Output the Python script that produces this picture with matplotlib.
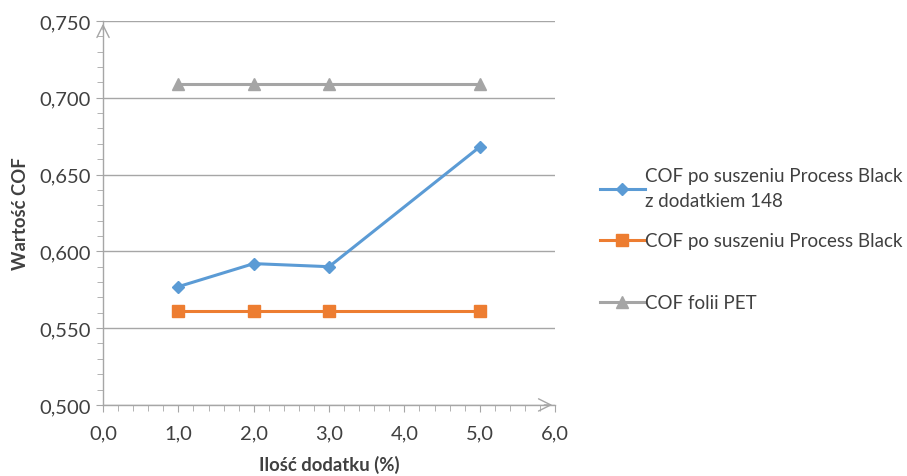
import matplotlib
matplotlib.use('Agg')
import matplotlib.pyplot as plt
from matplotlib.ticker import MultipleLocator, FuncFormatter

plt.rcParams['font.family'] = ['Lato', 'DejaVu Sans']

# data
x_pts = [1.0, 2.0, 3.0, 5.0]
cof_148 = [0.577, 0.592, 0.590, 0.668]
cof_black = [0.561, 0.561, 0.561, 0.561]
cof_pet = [0.709, 0.709, 0.709, 0.709]
labels = ['COF po suszeniu Process Black\nz dodatkiem 148',
          'COF po suszeniu Process Black',
          'COF folii PET']
colors = ['#5B9BD5', '#ED7D31', '#A5A5A5']
markers = ['D', 's', '^']

fig = plt.figure(figsize=(9.07, 4.77), dpi=100)
ax = fig.add_axes([0.1136, 0.149, 0.4984, 0.805])

series = [cof_148, cof_black, cof_pet]
msizes = [6, 8, 8]
handles = []
for vals, lab, c, m, ms in zip(series, labels, colors, markers, msizes):
    h, = ax.plot(x_pts, vals, color=c, marker=m, markersize=ms, lw=2.2, label=lab, zorder=3)
    handles.append(h)

ax.set_xlim(0, 6)
ax.set_ylim(0.5, 0.75)
ax.xaxis.set_major_locator(MultipleLocator(1))
ax.xaxis.set_minor_locator(MultipleLocator(0.2))
ax.yaxis.set_major_locator(MultipleLocator(0.05))
ax.yaxis.set_minor_locator(MultipleLocator(0.01))
ax.xaxis.set_major_formatter(FuncFormatter(lambda v, p: ('%.1f' % v).replace('.', ',')))
ax.yaxis.set_major_formatter(FuncFormatter(lambda v, p: ('%.3f' % v).replace('.', ',')))

ax.grid(axis='y', which='major', color='#A6A6A6', lw=1.0, zorder=0)
for s in ['top', 'right']:
    ax.spines[s].set_visible(False)
for s in ['left', 'bottom']:
    ax.spines[s].set_color('#A6A6A6')
    ax.spines[s].set_linewidth(1.0)
ax.tick_params(which='both', color='#A6A6A6', labelsize=14.5, labelcolor='#404040')
ax.tick_params(which='major', length=5)
ax.tick_params(which='minor', length=4)
ax.tick_params(axis='x', pad=9)
ax.tick_params(axis='y', pad=4)

# open arrow heads at axis ends
ax.annotate('', xy=(1.0, 0), xytext=(0.97, 0), xycoords='axes fraction',
            arrowprops=dict(arrowstyle='->', color='#A6A6A6', lw=1.0, mutation_scale=22),
            annotation_clip=False)
ax.annotate('', xy=(0, 1.0), xytext=(0, 0.97), xycoords='axes fraction',
            arrowprops=dict(arrowstyle='->', color='#A6A6A6', lw=1.0, mutation_scale=22),
            annotation_clip=False)

ax.set_xlabel('Ilość dodatku (%)', fontsize=13.3, fontweight='bold', color='#404040', labelpad=10)
ax.set_ylabel('Wartość COF', fontsize=13.3, fontweight='bold', color='#404040', labelpad=7)

# legend entries placed one by one, like the Excel layout
tops = [0.648, 0.511, 0.381]
for h, lab, t in zip(handles, labels, tops):
    leg = fig.legend([h], [lab], loc='upper left', bbox_to_anchor=(0.661, t), frameon=False,
                     fontsize=13.5, labelcolor='#404040', handlelength=2.4, handletextpad=0.05,
                     borderaxespad=0, borderpad=0)
    for txt in leg.get_texts():
        txt.set_linespacing(1.6)

fig.savefig('out.png', dpi=100)
